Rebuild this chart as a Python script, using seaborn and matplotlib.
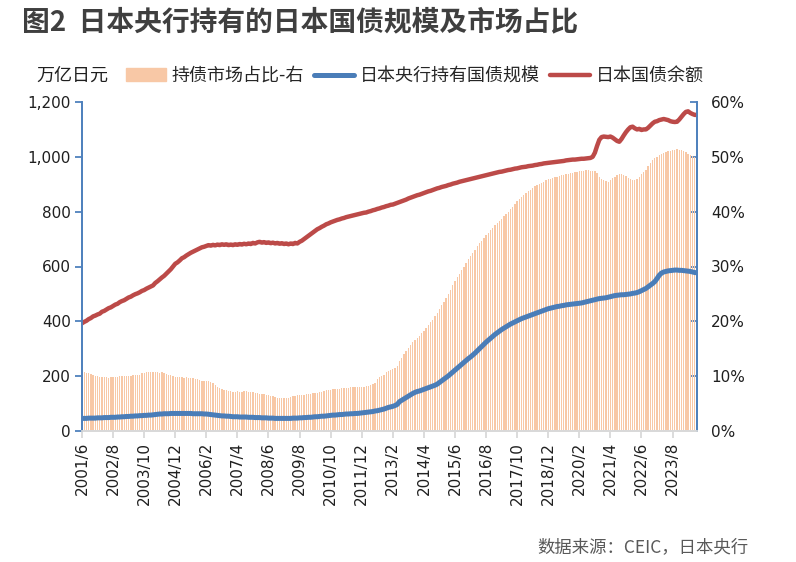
import numpy as np
import pandas as pd
import matplotlib
matplotlib.use('Agg')
import matplotlib.pyplot as plt
import matplotlib.patches as mpatches
from matplotlib.lines import Line2D
from matplotlib.ticker import FuncFormatter
import seaborn as sns

# Monthly data, 2001/6 - 2024/7
months = pd.period_range('2001-06', '2024-07', freq='M')

# BOJ share of JGB market (%), right axis
share_pct = (
    [10.8, 10.7, 10.6, 10.5, 10.4, 10.3, 10.1]
    + [10.0, 9.9, 9.9, 9.8, 9.8, 9.7, 9.8, 9.8, 9.9, 9.9, 10.0, 10.0]
    + [10.0, 10.0, 10.1, 10.1, 10.2, 10.2, 10.2, 10.3, 10.5, 10.6, 10.7, 10.8]
    + [10.8, 10.7, 10.8, 10.7, 10.6, 10.7, 10.5, 10.4, 10.3, 10.2, 10.1, 9.9]
    + [9.8, 9.9, 9.8, 9.7, 9.8, 9.7, 9.7, 9.6, 9.5, 9.4, 9.3, 9.2]
    + [9.2, 9.1, 9.1, 9.0, 8.7, 8.3, 8.0, 7.8, 7.6, 7.5, 7.4, 7.3]
    + [7.3, 7.2, 7.2, 7.3, 7.2, 7.2, 7.3, 7.3, 7.2, 7.2, 7.1, 7.0]
    + [6.9, 6.8, 6.8, 6.7, 6.6, 6.5, 6.4, 6.3, 6.2, 6.1, 6.1, 6.0]
    + [6.0, 6.0, 6.1, 6.2, 6.3, 6.4, 6.5, 6.6, 6.6, 6.6, 6.7, 6.7]
    + [6.8, 6.9, 7.0, 7.0, 7.1, 7.2, 7.3, 7.4, 7.5, 7.5, 7.6, 7.6]
    + [7.7, 7.7, 7.8, 7.8, 7.9, 7.9, 8.0, 8.0, 8.0, 8.1, 8.1, 8.1]
    + [8.1, 8.2, 8.2, 8.3, 8.5, 8.8, 9.5, 9.9, 10.1, 10.3, 10.7, 10.9]
    + [11.1, 11.3, 11.5, 11.8, 12.7, 13.4, 14.0, 14.6, 15.2, 15.7, 16.2, 16.6]
    + [17.0, 17.4, 17.8, 18.3, 18.8, 19.3, 19.8, 20.3, 20.9, 21.6, 22.3, 23.0]
    + [23.6, 24.3, 25.0, 25.8, 26.6, 27.3, 28.0, 28.7, 29.3, 30.0, 30.7, 31.4]
    + [31.9, 32.5, 33.1, 33.7, 34.2, 34.7, 35.2, 35.7, 36.2, 36.7, 37.1, 37.5]
    + [37.9, 38.3, 38.7, 39.2, 39.6, 40.0, 40.5, 40.9, 41.4, 41.9, 42.3, 42.7]
    + [43.1, 43.4, 43.7, 44.0, 44.3, 44.6, 44.8, 45.0, 45.3, 45.5, 45.7, 45.9]
    + [46.0, 46.1, 46.3, 46.4, 46.5, 46.6, 46.7, 46.8, 46.9, 47.0, 47.1, 47.2]
    + [47.3, 47.4, 47.5, 47.5, 47.6, 47.6, 47.5, 47.5, 47.4, 47.0, 46.4, 46.0]
    + [45.8, 45.6, 45.5, 45.8, 46.1, 46.4, 46.6, 46.8, 46.9, 46.7, 46.5, 46.1]
    + [45.9, 45.7, 45.8, 46.0, 46.3, 46.9, 47.3, 47.6, 48.3, 48.9, 49.4, 49.8]
    + [50.0, 50.3, 50.5, 50.7, 50.9, 51.0, 51.1, 51.2, 51.3, 51.4, 51.3, 51.2]
    + [51.1, 50.9, 50.6, 50.4, 50.1, 50.0, 49.9]
)

# BOJ JGB holdings (trillion yen)
boj_holdings = (
    [46, 46, 46, 47, 47, 47, 47]
    + [48, 48, 48, 49, 49, 49, 50, 50, 50, 51, 51, 52]
    + [52, 53, 53, 54, 54, 55, 55, 56, 56, 57, 57, 58]
    + [58, 59, 60, 61, 62, 62, 63, 63, 63, 64, 64, 64]
    + [64, 64, 64, 64, 64, 64, 64, 63, 63, 63, 63, 63]
    + [62, 62, 61, 60, 59, 58, 57, 56, 55, 55, 54, 54]
    + [53, 52, 52, 52, 51, 51, 51, 51, 50, 50, 50, 49]
    + [49, 49, 48, 48, 48, 47, 47, 47, 46, 46, 46, 46]
    + [46, 46, 46, 46, 47, 47, 47, 48, 48, 49, 49, 50]
    + [50, 51, 52, 52, 53, 54, 54, 55, 56, 57, 58, 58]
    + [59, 60, 60, 61, 62, 62, 63, 63, 64, 64, 65, 66]
    + [67, 68, 69, 70, 71, 73, 74, 76, 78, 80, 83, 86]
    + [88, 90, 93, 97, 107, 112, 117, 122, 127, 132, 137, 141]
    + [144, 146, 149, 152, 155, 158, 161, 164, 167, 171, 177, 183]
    + [189, 195, 201, 208, 215, 222, 229, 236, 243, 250, 257, 264]
    + [270, 277, 284, 292, 300, 308, 316, 324, 331, 338, 345, 352]
    + [358, 364, 370, 375, 380, 385, 390, 394, 398, 402, 406, 410]
    + [413, 416, 419, 422, 425, 428, 431, 434, 437, 440, 443, 446]
    + [448, 450, 452, 454, 455, 457, 458, 460, 461, 462, 463, 464]
    + [465, 466, 467, 469, 471, 473, 475, 477, 479, 481, 483, 484]
    + [485, 486, 488, 490, 492, 494, 495, 496, 497, 497, 498, 499]
    + [500, 502, 503, 505, 508, 512, 516, 520, 526, 532, 538, 545]
    + [556, 568, 576, 580, 582, 584, 585, 586, 587, 587, 586, 586]
    + [585, 584, 583, 582, 580, 578, 577]
)

# JGB outstanding (trillion yen)
jgb_outstanding = (
    [393, 398, 402, 408, 412, 418, 421]
    + [425, 428, 435, 438, 443, 448, 451, 456, 461, 464, 470, 474]
    + [477, 482, 487, 490, 495, 499, 502, 506, 511, 514, 519, 523]
    + [527, 531, 540, 546, 553, 560, 566, 574, 582, 590, 600, 610]
    + [615, 622, 630, 634, 640, 645, 650, 654, 658, 662, 666, 670]
    + [672, 675, 678, 676, 679, 677, 680, 678, 681, 679, 681, 678]
    + [680, 678, 681, 679, 682, 680, 683, 681, 684, 682, 686, 684]
    + [688, 690, 687, 689, 686, 688, 685, 687, 684, 686, 683, 685]
    + [682, 684, 681, 684, 682, 686, 684, 690, 694, 700, 706, 712]
    + [718, 724, 730, 736, 740, 745, 749, 754, 757, 761, 764, 767]
    + [770, 772, 775, 777, 780, 782, 784, 786, 788, 790, 792, 794]
    + [796, 797, 800, 802, 805, 807, 810, 812, 815, 817, 820, 822]
    + [825, 826, 829, 832, 835, 838, 841, 844, 848, 851, 854, 857]
    + [860, 862, 865, 868, 871, 874, 876, 879, 882, 885, 887, 890]
    + [892, 894, 897, 899, 902, 904, 906, 909, 911, 913, 915, 917]
    + [919, 921, 923, 925, 927, 929, 931, 933, 935, 937, 939, 941]
    + [943, 945, 946, 948, 950, 952, 953, 955, 957, 958, 960, 962]
    + [963, 964, 966, 967, 968, 970, 971, 973, 974, 976, 977, 978]
    + [979, 980, 981, 982, 983, 984, 985, 987, 988, 989, 990, 990]
    + [991, 992, 993, 993, 994, 995, 996, 1000, 1015, 1040, 1062, 1072]
    + [1074, 1073, 1072, 1074, 1070, 1064, 1058, 1055, 1065, 1078, 1090, 1100]
    + [1108, 1110, 1104, 1100, 1102, 1098, 1100, 1100, 1106, 1114, 1122, 1128]
    + [1130, 1134, 1136, 1138, 1136, 1134, 1130, 1128, 1127, 1128, 1136, 1146]
    + [1156, 1164, 1166, 1160, 1156, 1153, 1153]
)

tick_labels = ['2001/6', '2002/8', '2003/10', '2004/12', '2006/2', '2007/4',
               '2008/6', '2009/8', '2010/10', '2011/12', '2013/2', '2014/4',
               '2015/6', '2016/8', '2017/10', '2018/12', '2020/2', '2021/4',
               '2022/6', '2023/8']

df = pd.DataFrame({
    'idx': np.arange(len(months)),
    'label': [f'{p.year}/{p.month}' for p in months],
    'share': share_pct,
    'boj': boj_holdings,
    'jgb': jgb_outstanding,
})

BAR_C = '#F8C8A6'
BLUE = '#4A7DB8'
RED = '#BC4A48'
AXIS_C = '#4F81BD'

sns.set_style('white')
plt.rcParams['font.family'] = ['DejaVu Sans', 'Noto Sans CJK SC']
cjk = ['Noto Sans CJK SC', 'DejaVu Sans']

fig = plt.figure(figsize=(7.96, 5.62), dpi=100)
ax = fig.add_axes([82 / 796, 1 - 431 / 562, (697 - 82) / 796, (431 - 102) / 562])
ax2 = ax.twinx()

# bars on the right axis, lines on the left axis (drawn on top)
ax2.bar(df['idx'], df['share'], width=0.6, color=BAR_C, linewidth=0)
sns.lineplot(data=df, x='idx', y='boj', ax=ax, color=BLUE, linewidth=3.6)
sns.lineplot(data=df, x='idx', y='jgb', ax=ax, color=RED, linewidth=3.2)
ax.set_zorder(ax2.get_zorder() + 1)
ax.patch.set_visible(False)

n = len(df)
ax.set_xlim(0, n - 1)
ax.set_ylim(0, 1200)
ax2.set_ylim(0, 60)
ax.set_yticks(range(0, 1201, 200))
ax2.set_yticks(range(0, 61, 10))
ax.yaxis.set_major_formatter(FuncFormatter(lambda v, p: f'{v:,.0f}'))
ax2.yaxis.set_major_formatter(FuncFormatter(lambda v, p: f'{v:.0f}%'))

label_pos = df.set_index('label')['idx']
ax.set_xticks([label_pos[t] for t in tick_labels])
ax.set_xticklabels(tick_labels, rotation=90)
ax.set_xlabel('')
ax.set_ylabel('')

for a in (ax, ax2):
    a.spines['top'].set_visible(False)
    a.spines['left'].set_color(AXIS_C)
    a.spines['right'].set_color(AXIS_C)
    a.spines['bottom'].set_color('#D9D9D9')
    a.spines['left'].set_linewidth(1.3)
    a.spines['right'].set_linewidth(1.3)
    a.spines['bottom'].set_linewidth(1.3)

ax.tick_params(axis='y', direction='out', length=5, width=1.3, color=AXIS_C,
               labelsize=11, labelcolor='#1F1F1F', pad=3)
ax2.tick_params(axis='y', direction='in', length=5, width=1.3, color=AXIS_C,
                labelsize=11, labelcolor='#1F1F1F', pad=10)
ax.tick_params(axis='x', direction='out', length=5, width=1.3, color='#D9D9D9',
               labelsize=11, labelcolor='#1F1F1F', pad=3, bottom=True)

# title, unit, legend, source
fig.text(22 / 796, 1 - 22 / 562, '图2  日本央行持有的日本国债规模及市场占比',
         family=cjk, fontsize=20, fontweight='bold', color='#3F3F3F', va='center')
fig.text(36 / 796, 1 - 76 / 562, '万亿日元', family=cjk, fontsize=13,
         color='#1F1F1F', va='center')

handles = [
    mpatches.Patch(color=BAR_C, label='持债市场占比-右'),
    Line2D([], [], color=BLUE, linewidth=3.6, label='日本央行持有国债规模'),
    Line2D([], [], color=RED, linewidth=3.2, label='日本国债余额'),
]
fig.legend(handles=handles, loc='center left', bbox_to_anchor=(126 / 796, 1 - 76 / 562),
           ncol=3, frameon=False, handlelength=2.2, handletextpad=0.3,
           columnspacing=0.6, borderaxespad=0, borderpad=0,
           prop={'family': cjk, 'size': 13})

fig.text(748 / 796, 1 - 547 / 562, '数据来源：CEIC，日本央行', family=cjk,
         fontsize=12.5, color='#595959', ha='right', va='center')

fig.savefig('out.png', dpi=100)
